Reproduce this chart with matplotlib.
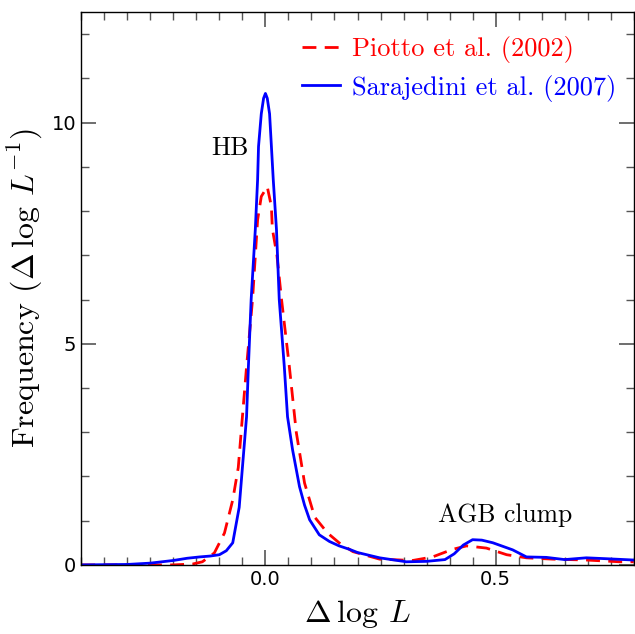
import numpy as np
import matplotlib
matplotlib.use("Agg")
import matplotlib.pyplot as plt
from matplotlib.ticker import MultipleLocator

plt.rcParams['mathtext.fontset'] = 'cm'
plt.rcParams['axes.formatter.use_mathtext'] = True

# Piotto et al. (2002), red dashed
x_piotto = [-0.40, -0.30, -0.20, -0.158, -0.137, -0.111, -0.089, -0.071, -0.059,
            -0.050, -0.041, -0.028, -0.017, -0.009, 0.004, 0.013, 0.015,
            0.025, 0.035, 0.052, 0.067, 0.085, 0.107, 0.135, 0.160, 0.190, 0.248, 0.32,
            0.363, 0.406, 0.437, 0.48, 0.524, 0.567, 0.624, 0.697, 0.77, 0.80]
y_piotto = [0.0, 0.0, 0.0, 0.02, 0.07, 0.27, 0.72, 1.47, 2.2,
            3.35, 4.48, 6.0, 7.8, 8.33, 8.55, 8.1, 7.6,
            7.0, 6.0, 4.48, 3.0, 1.85, 1.08, 0.72, 0.5, 0.30, 0.13, 0.10,
            0.18, 0.35, 0.43, 0.38, 0.23, 0.16, 0.13, 0.11, 0.07, 0.07]

# Sarajedini et al. (2007), blue solid
x_sara = [-0.40, -0.30, -0.25, -0.20, -0.17, -0.143, -0.12, -0.10, -0.085, -0.071, -0.057,
          -0.050, -0.041, -0.037, -0.031, -0.022, -0.017, -0.015, -0.009, -0.004, 0.0,
          0.004, 0.009, 0.013, 0.017, 0.024, 0.030, 0.041, 0.048, 0.059, 0.074, 0.085,
          0.096, 0.117, 0.139, 0.16, 0.183, 0.2, 0.248, 0.306, 0.35, 0.39, 0.41, 0.43,
          0.45, 0.47, 0.494, 0.537, 0.567, 0.61, 0.65, 0.697, 0.74, 0.80]
y_sara = [0.0, 0.01, 0.04, 0.10, 0.15, 0.18, 0.20, 0.23, 0.32, 0.5, 1.3,
          2.2, 3.35, 4.48, 6.0, 7.58, 8.71, 9.46, 10.2, 10.55, 10.66,
          10.55, 10.2, 9.46, 8.71, 7.58, 6.0, 4.48, 3.35, 2.6, 1.77, 1.35,
          1.02, 0.68, 0.53, 0.43, 0.35, 0.28, 0.16, 0.07, 0.08, 0.12, 0.25, 0.45,
          0.57, 0.56, 0.5, 0.34, 0.18, 0.17, 0.12, 0.16, 0.14, 0.11]

fig = plt.figure(figsize=(6.35, 6.34), dpi=100)
ax = fig.add_axes([0.128, 0.109, 0.870, 0.872])

ax.plot(x_piotto, y_piotto, color='red', ls=(0, (5, 3)), lw=2.0,
        label='Piotto et al. (2002)')
ax.plot(x_sara, y_sara, color='blue', lw=2.0, label='Sarajedini et al. (2007)')

ax.set_xlim(-0.4, 0.8)
ax.set_ylim(0, 12.5)
ax.xaxis.set_major_locator(MultipleLocator(0.5))
ax.xaxis.set_minor_locator(MultipleLocator(0.05))
ax.yaxis.set_major_locator(MultipleLocator(5))
ax.yaxis.set_minor_locator(MultipleLocator(1))
ax.xaxis.set_major_formatter(plt.FuncFormatter(lambda v, p: f"{v:.1f}"))
ax.yaxis.set_major_formatter(plt.FuncFormatter(lambda v, p: f"{v:.0f}"))
ax.tick_params(which='both', direction='in', top=True, right=True,
               color='#555555', labelsize=14)
ax.tick_params(which='major', length=11, width=1.2)
ax.tick_params(which='minor', length=6, width=1.0)
for s in ax.spines.values():
    s.set_linewidth(1.0)

ax.set_xlabel(r'$\Delta\:\log\:L$', fontsize=23, labelpad=7)
ax.set_ylabel(r'Frequency ($\Delta\:\log\:L^{-1}$)', fontsize=23,
              family='cmr10', labelpad=5)

ax.text(-0.076, 9.43, 'HB', family='cmr10', fontsize=18.5, ha='center', va='center')
ax.text(0.52, 1.13, 'AGB clump', family='cmr10', fontsize=18.5, ha='center', va='center')

leg = ax.legend(loc='upper right', bbox_to_anchor=(1.012, 1.0), frameon=False,
                prop={'family': 'cmr10', 'size': 19},
                handlelength=1.45, handletextpad=0.45, borderaxespad=0.5,
                labelspacing=0.45)
for t, line in zip(leg.get_texts(), leg.get_lines()):
    t.set_color(line.get_color())

fig.savefig('out.png', dpi=100)
